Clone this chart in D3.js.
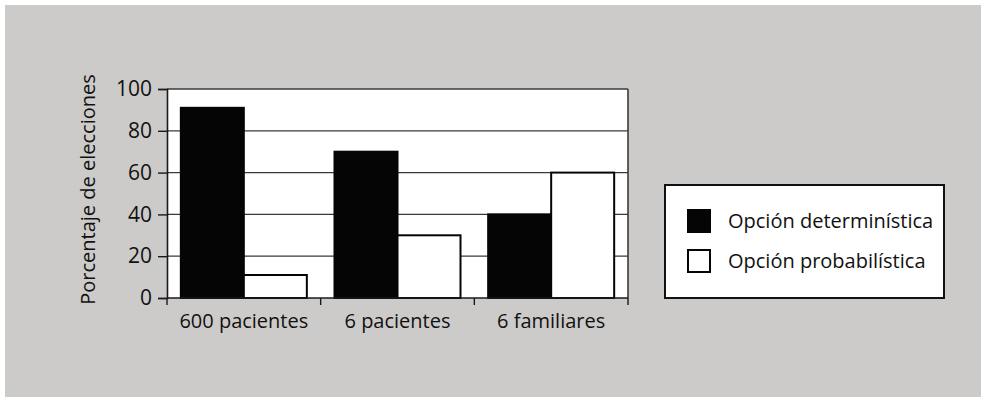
<!DOCTYPE html>
<html>
<head>
<meta charset="utf-8">
<script src="https://cdn.jsdelivr.net/npm/d3@7"></script>
<style>
  html, body { margin: 0; padding: 0; background: #ffffff; }
  svg { display: block; }
  text { font-family: "Open Sans", "Noto Sans", sans-serif; fill: #111111; }
</style>
</head>
<body>
<svg id="chart" width="981" height="397"></svg>
<script>
// Groups along the x axis
const categories = ["600 pacientes", "6 pacientes", "6 familiares"];
// Series names and percentages per group
const seriesNames = ["Opción determinística", "Opción probabilística"];
const deterministic = [91, 70, 40];
const probabilistic = [11, 30, 60];
const yTicks = [0, 20, 40, 60, 80, 100];
const yTitle = "Porcentaje de elecciones";

const svg = d3.select("#chart");
const W = 981, H = 397;
const fontSize = 20;

// Panel background
svg.append("rect")
  .attr("x", 5).attr("y", 5)
  .attr("width", W - 5).attr("height", H - 5)
  .attr("fill", "#cccbc9");

const plot = { left: 167, right: 628, top: 89, bottom: 298 };

const x0 = d3.scaleBand()
  .domain(categories)
  .range([plot.left, plot.right])
  .padding(0);

const x1 = d3.scaleBand()
  .domain(seriesNames)
  .range([x0.bandwidth() * 0.09, x0.bandwidth() * 0.91])
  .padding(0);

const y = d3.scaleLinear()
  .domain([0, 100])
  .range([plot.bottom, plot.top]);

// Plot area fill
svg.append("rect")
  .attr("x", plot.left).attr("y", plot.top)
  .attr("width", plot.right - plot.left).attr("height", plot.bottom - plot.top)
  .attr("fill", "#ffffff");

// Horizontal grid lines
svg.append("g")
  .selectAll("line")
  .data(yTicks.filter(d => d > 0))
  .join("line")
  .attr("x1", plot.left).attr("x2", plot.right)
  .attr("y1", d => y(d)).attr("y2", d => y(d))
  .attr("stroke", "#3a3a3a")
  .attr("stroke-width", 1.3);

// Right border of plot area
svg.append("line")
  .attr("x1", plot.right).attr("x2", plot.right)
  .attr("y1", plot.top).attr("y2", plot.bottom)
  .attr("stroke", "#3a3a3a")
  .attr("stroke-width", 1.6);

// Bars
const data = categories.map((c, i) => ({
  category: c,
  values: [
    { series: seriesNames[0], value: deterministic[i], fill: "#050505" },
    { series: seriesNames[1], value: probabilistic[i], fill: "#ffffff" }
  ]
}));

const groups = svg.append("g")
  .selectAll("g")
  .data(data)
  .join("g")
  .attr("transform", d => `translate(${x0(d.category)},0)`);

groups.selectAll("rect")
  .data(d => d.values)
  .join("rect")
  .attr("x", d => x1(d.series))
  .attr("y", d => y(d.value))
  .attr("width", x1.bandwidth())
  .attr("height", d => y(0) - y(d.value))
  .attr("fill", d => d.fill)
  .attr("stroke", "#050505")
  .attr("stroke-width", 2);

// Y axis
const yAxis = d3.axisLeft(y)
  .tickValues(yTicks)
  .tickSize(9)
  .tickPadding(6)
  .tickFormat(d3.format("d"));

const gy = svg.append("g")
  .attr("transform", `translate(${plot.left},0)`)
  .call(yAxis);
gy.select(".domain").attr("stroke", "#1a1a1a").attr("stroke-width", 1.6);
gy.selectAll(".tick line").attr("stroke", "#1a1a1a").attr("stroke-width", 1.4);
gy.selectAll(".tick text")
  .attr("font-size", 21)
  .attr("fill", "#111111")
  .style("font-family", "'Open Sans', 'Noto Sans', sans-serif");

// X axis with ticks on group boundaries
const boundaries = categories.map(c => x0(c)).concat([plot.right]);
const gx = svg.append("g");
gx.append("line")
  .attr("x1", plot.left).attr("x2", plot.right)
  .attr("y1", plot.bottom).attr("y2", plot.bottom)
  .attr("stroke", "#1a1a1a").attr("stroke-width", 1.6);
gx.selectAll("line.tick")
  .data(boundaries)
  .join("line")
  .attr("class", "tick")
  .attr("x1", d => d).attr("x2", d => d)
  .attr("y1", plot.bottom).attr("y2", plot.bottom + 7)
  .attr("stroke", "#1a1a1a").attr("stroke-width", 1.4);
gx.selectAll("text")
  .data(categories)
  .join("text")
  .attr("x", d => x0(d) + x0.bandwidth() / 2)
  .attr("y", plot.bottom + 30)
  .attr("text-anchor", "middle")
  .attr("font-size", fontSize)
  .text(d => d);

// Y axis title
svg.append("text")
  .attr("transform", `translate(95,${(plot.top + plot.bottom) / 2 - 4}) rotate(-90)`)
  .attr("text-anchor", "middle")
  .attr("font-size", fontSize)
  .text(yTitle);

// Legend
const legend = svg.append("g").attr("transform", "translate(665,185)");
legend.append("rect")
  .attr("width", 279).attr("height", 113)
  .attr("fill", "#ffffff")
  .attr("stroke", "#111111")
  .attr("stroke-width", 2);

const legendItems = legend.selectAll("g.item")
  .data(seriesNames.map((s, i) => ({ name: s, fill: i === 0 ? "#050505" : "#ffffff" })))
  .join("g")
  .attr("class", "item")
  .attr("transform", (d, i) => `translate(23,${25 + i * 40})`);

legendItems.append("rect")
  .attr("width", 22).attr("height", 22)
  .attr("fill", d => d.fill)
  .attr("stroke", "#050505")
  .attr("stroke-width", 2);

legendItems.append("text")
  .attr("x", 40)
  .attr("y", 18)
  .attr("font-size", fontSize)
  .text(d => d.name);
</script>
</body>
</html>
